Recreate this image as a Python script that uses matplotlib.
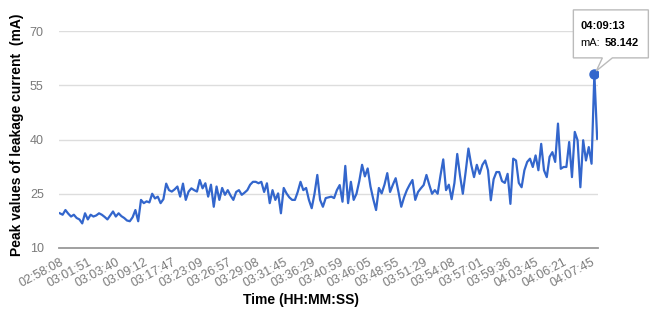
import matplotlib
matplotlib.use("Agg")
import matplotlib.pyplot as plt
from matplotlib.patches import Polygon

# --- DATA ---
# peak leakage current readings (mA), one per sample
current_ma = [
    19.6, 19.2, 20.5, 19.5, 18.7, 19.2, 18.3, 17.9, 16.8, 19.6,
    17.9, 19.2, 18.7, 19.0, 19.6, 19.2, 18.6, 17.9, 19.0, 20.1,
    18.7, 19.6, 18.8, 18.3, 17.6, 17.4, 18.5, 20.5, 17.4, 23.3,
    22.4, 22.9, 22.6, 25.0, 23.7, 24.2, 22.4, 23.5, 27.8, 26.0,
    25.6, 26.2, 27.0, 24.2, 27.8, 23.3, 25.6, 26.5, 26.0, 25.6,
    28.8, 26.5, 27.9, 24.2, 27.5, 21.4, 27.0, 23.3, 26.6, 24.7,
    26.0, 24.5, 23.3, 25.5, 26.0, 24.7, 25.3, 26.0, 27.5, 28.3,
    28.3, 27.9, 28.3, 25.5, 27.9, 22.4, 26.0, 23.3, 25.1, 19.6,
    26.6, 25.1, 24.0, 23.3, 23.3, 25.5, 28.3, 26.0, 26.6, 23.3,
    21.0, 25.0, 30.2, 23.3, 21.4, 23.8, 24.0, 24.2, 23.8, 26.0,
    27.4, 22.8, 32.7, 22.4, 28.3, 23.3, 25.0, 28.5, 33.0, 29.8,
    32.0, 27.0, 23.5, 20.5, 26.6, 25.1, 27.5, 30.7, 25.5, 27.5,
    29.3, 25.5, 21.4, 24.0, 26.0, 27.5, 28.8, 23.3, 25.5, 26.5,
    27.4, 30.2, 27.5, 25.0, 26.0, 25.0, 30.0, 34.5, 26.0, 27.5,
    23.5, 28.0, 36.0, 30.0, 25.0, 31.0, 37.5, 33.0, 29.6, 33.0,
    30.5, 33.0, 34.2, 31.5, 23.2, 29.0, 31.0, 31.0, 28.5, 28.0,
    30.5, 22.2, 34.7, 34.2, 28.0, 26.8, 31.5, 33.8, 34.7, 32.4,
    35.6, 31.5, 38.8, 31.5, 29.6, 35.2, 36.5, 33.8, 44.4, 31.9,
    32.4, 32.4, 39.3, 29.6, 42.1, 39.8, 26.8, 39.8, 34.2, 37.9,
    33.3, 58.142, 40.2,
]

# labelled samples on the time axis (every 10th reading)
tick_times = [
    "02:58:08", "03:01:51", "03:03:40", "03:09:12", "03:17:47",
    "03:23:09", "03:26:57", "03:29:08", "03:31:45", "03:36:29",
    "03:40:59", "03:46:05", "03:48:55", "03:51:29", "03:54:08",
    "03:57:01", "03:59:36", "04:03:45", "04:06:21", "04:07:45",
]
tick_step = 10

peak_time = "04:09:13"
y_ticks = [10, 25, 40, 55, 70]

# --- PLOT ---
plt.rcParams["font.family"] = ["Liberation Sans", "DejaVu Sans"]

fig = plt.figure(figsize=(6.5, 3.15), dpi=100)
ax = fig.add_axes([59 / 650, 1 - 248 / 315, 539 / 650, 217 / 315])

x = list(range(len(current_ma)))
ax.plot(x, current_ma, color="#3366cc", lw=1.6, zorder=3)

peak_i = current_ma.index(max(current_ma))
ax.plot(peak_i, current_ma[peak_i], "o", color="#3366cc", ms=6.5, zorder=4)

ax.set_xlim(-0.3, len(current_ma) - 0.7)
ax.set_ylim(10, 70)
ax.set_yticks(y_ticks)
ax.set_xticks(range(0, tick_step * len(tick_times), tick_step))
ax.set_xticklabels(tick_times, rotation=28, ha="right", va="top",
                   rotation_mode="anchor")
ax.tick_params(axis="both", length=0, labelsize=9, colors="#7a7a7a")
ax.tick_params(axis="x", pad=6)
ax.tick_params(axis="y", pad=11)

ax.grid(axis="y", color="#dddddd", lw=1)
ax.set_axisbelow(True)
for s in ["top", "right", "left"]:
    ax.spines[s].set_visible(False)
ax.spines["bottom"].set_color("#999999")
ax.spines["bottom"].set_linewidth(1.3)

fig.text(301 / 650, 1 - 300 / 315, "Time (HH:MM:SS)", fontsize=10,
         fontweight="bold", ha="center", va="center")
fig.text(17 / 650, 1 - 135 / 315, "Peak values of leakage current  (mA)",
         fontsize=10, fontweight="bold", rotation=90, ha="center", va="center")

# tooltip box pointing at the peak
fig.canvas.draw()
px, py = ax.transData.transform((peak_i, current_ma[peak_i]))
L, R = px - 21, px + 54
T, B = py + 64, py + 16
tip = [(L, B), (L, T), (R, T), (R, B), (px + 18, B), (px + 2, py + 3), (px + 8, B)]
fig.patches.append(Polygon(tip, closed=True, facecolor="white",
                           edgecolor="#bbbbbb", lw=1, transform=None, zorder=5))
fig.text((px - 14) / 650, (py + 48) / 315, peak_time, fontsize=8,
         fontweight="bold", va="center", zorder=6)
fig.text((px - 14) / 650, (py + 31) / 315, "mA:", fontsize=8,
         va="center", zorder=6)
fig.text((px + 10) / 650, (py + 31) / 315, f"{current_ma[peak_i]:.3f}", fontsize=8,
         fontweight="bold", va="center", zorder=6)

fig.savefig("out.png", dpi=100)
